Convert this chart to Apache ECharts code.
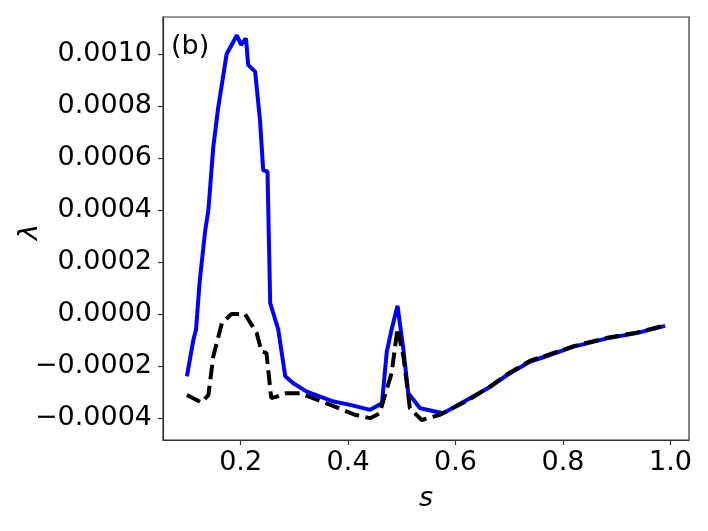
<!DOCTYPE html>
<html>
<head>
<meta charset="utf-8">
<script src="https://cdn.jsdelivr.net/npm/echarts@6/dist/echarts.min.js"></script>
<style>
  html, body { margin: 0; padding: 0; background: #fff; }
  #chart { width: 708px; height: 531px; }
</style>
</head>
<body>
<div id="chart"></div>
<script>
// values
const sBlue = [0.100, 0.112, 0.117, 0.121, 0.124, 0.134, 0.140, 0.149, 0.158, 0.174,
  0.193, 0.201, 0.210, 0.214, 0.227, 0.236, 0.242, 0.250, 0.255, 0.270,
  0.283, 0.298, 0.323, 0.373, 0.404, 0.441, 0.463, 0.472, 0.481, 0.492,
  0.503, 0.512, 0.534, 0.577, 0.621, 0.665, 0.696, 0.739, 0.776, 0.820,
  0.882, 0.937, 0.990]
const lambdaBlue = [-0.000240, -0.000100, -0.000060, 0.000050, 0.000130, 0.000320, 0.000400, 0.000640, 0.000790, 0.001000,
  0.001072, 0.001035, 0.001060, 0.000958, 0.000932, 0.000746, 0.000552, 0.000548, 0.000042, -0.000060,
  -0.000240, -0.000267, -0.000299, -0.000337, -0.000350, -0.000369, -0.000344, -0.000145, -0.000060, 0.000031,
  -0.000138, -0.000305, -0.000363, -0.000382, -0.000331, -0.000280, -0.000235, -0.000183, -0.000158, -0.000126,
  -0.000094, -0.000074, -0.000046]

const sBlack = [0.100, 0.127, 0.140, 0.149, 0.165, 0.183, 0.208, 0.230, 0.239, 0.248,
  0.257, 0.267, 0.285, 0.310, 0.360, 0.413, 0.441, 0.459, 0.466, 0.481,
  0.492, 0.503, 0.515, 0.537, 0.571, 0.621, 0.665, 0.696, 0.739, 0.776,
  0.820, 0.882, 0.937, 0.990]
const lambdaBlack = [-0.000312, -0.000341, -0.000312, -0.000164, -0.000036, 0.000000, 0.000000, -0.000074, -0.000145, -0.000150,
  -0.000324, -0.000318, -0.000305, -0.000305, -0.000344, -0.000388, -0.000401, -0.000382, -0.000331, -0.000228,
  -0.000055, -0.000164, -0.000363, -0.000408, -0.000388, -0.000335, -0.000278, -0.000232, -0.000180, -0.000155,
  -0.000124, -0.000092, -0.000072, -0.000044]

const xTicks = [0.2, 0.4, 0.6, 0.8, 1.0]
const yTicks = [-0.0004, -0.0002, 0, 0.0002, 0.0004, 0.0006, 0.0008, 0.0010]

const font = 'DejaVu Sans'
const spine = '#333333'

function pairs (xs, ys) {
  return xs.map((x, i) => [x, ys[i]])
}

const chart = echarts.init(document.getElementById('chart'), null, { renderer: 'canvas' })
chart.setOption({
  animation: false,
  backgroundColor: '#ffffff',
  grid: {
    left: 163,
    right: 19,
    top: 17,
    bottom: 91,
    containLabel: false,
    outerBoundsMode: 'none',
    show: true,
    borderColor: spine,
    borderWidth: 1.2
  },
  xAxis: {
    type: 'value',
    min: 0.0555,
    max: 1.0345,
    name: 's',
    nameLocation: 'middle',
    nameGap: 45,
    nameTextStyle: { fontFamily: font, fontStyle: 'italic', fontSize: 27, color: '#000' },
    axisLine: { show: true, onZero: false, lineStyle: { color: spine, width: 1.2 } },
    axisTick: { show: true, length: 5, lineStyle: { color: spine, width: 1.2 }, customValues: xTicks },
    axisLabel: {
      fontFamily: font, fontSize: 27, color: '#000', margin: 9,
      customValues: xTicks,
      formatter: v => v.toFixed(1)
    },
    splitLine: { show: false }
  },
  yAxis: {
    type: 'value',
    min: -0.000485,
    max: 0.001142,
    axisLine: { show: true, onZero: false, lineStyle: { color: spine, width: 1.2 } },
    axisTick: { show: true, length: 5, lineStyle: { color: spine, width: 1.2 }, customValues: yTicks },
    axisLabel: {
      fontFamily: font, fontSize: 27, color: '#000', margin: 11,
      customValues: yTicks,
      formatter: v => v.toFixed(4).replace('-', '\u2212')
    },
    splitLine: { show: false }
  },
  graphic: [
    {
      type: 'text',
      left: 171,
      top: 33,
      style: { text: '(b)', fontFamily: font, fontSize: 27, fill: '#000' }
    },
    {
      type: 'text',
      x: 30,
      y: 232,
      rotation: Math.PI / 2,
      style: {
        text: 'λ', fontFamily: font, fontStyle: 'italic', fontSize: 27, fill: '#000',
        align: 'center', verticalAlign: 'middle'
      }
    }
  ],
  series: [
    {
      name: 'blue',
      type: 'line',
      data: pairs(sBlue, lambdaBlue),
      showSymbol: false,
      lineStyle: { color: '#0000ff', width: 4 },
      z: 2
    },
    {
      name: 'black',
      type: 'line',
      data: pairs(sBlack, lambdaBlack),
      showSymbol: false,
      lineStyle: { color: '#000000', width: 4, type: [14.8, 6.4] },
      z: 3
    }
  ]
})
</script>
</body>
</html>
